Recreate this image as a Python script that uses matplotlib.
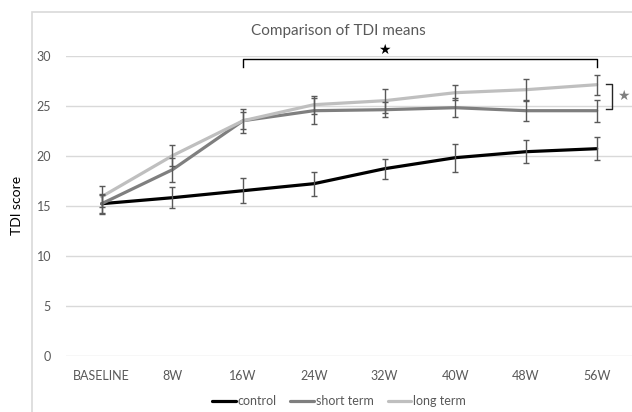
import matplotlib.pyplot as plt
from matplotlib.patches import Rectangle
import numpy as np

# data
categories = ['BASELINE', '8W', '16W', '24W', '32W', '40W', '48W', '56W']
control = [15.2, 15.8, 16.5, 17.2, 18.7, 19.8, 20.4, 20.7]
control_err = [1.0, 1.05, 1.25, 1.2, 1.0, 1.4, 1.17, 1.13]
short_term = [15.2, 18.6, 23.5, 24.5, 24.6, 24.8, 24.5, 24.5]
short_err = [0.9, 1.2, 0.85, 1.3, 0.75, 0.93, 1.05, 1.1]
long_term = [15.9, 20.0, 23.5, 25.1, 25.5, 26.3, 26.6, 27.1]
long_err = [1.05, 1.03, 1.2, 0.9, 1.2, 0.75, 1.1, 1.0]
yticks = [0, 5, 10, 15, 20, 25, 30]

plt.rcParams['font.family'] = ['Lato', 'DejaVu Sans']

fig = plt.figure(figsize=(6.32, 4.12), dpi=100)
ax = fig.add_axes([66.35 / 632, 56.3 / 412, 565.7 / 632, 300 / 412])

# chart border (light gray frame, left/top visible)
fig.patches.append(Rectangle((32 / 632, -0.05), 1.2, 1 - 12 / 412 + 0.05,
                             transform=fig.transFigure, fill=False,
                             edgecolor='#d9d9d9', lw=1.2))

x = np.arange(len(categories))

series = [(control, control_err, 'black', 'control'),
          (short_term, short_err, '#7f7f7f', 'short term'),
          (long_term, long_err, '#bfbfbf', 'long term')]

for vals, err, col, lab in series:
    ax.plot(x, vals, color=col, lw=2.3, label=lab, zorder=3, solid_capstyle='round')
for vals, err, col, lab in series:
    ax.errorbar(x, vals, yerr=err, fmt='none', ecolor='#595959', elinewidth=1,
                capsize=2.2, capthick=1, zorder=4)

ax.set_xlim(-0.5, len(categories) - 0.5)
ax.set_ylim(0, 30)
ax.set_yticks(yticks)
ax.set_xticks(x)
ax.set_xticklabels(categories)
ax.grid(axis='y', color='#d9d9d9', lw=1)
ax.set_axisbelow(True)
for s in ax.spines.values():
    s.set_visible(False)
ax.tick_params(length=0, labelsize=9, colors='#595959', pad=11)
ax.tick_params(axis='x', pad=10)

fig.text(17 / 632, 1 - 205 / 412, 'TDI score', rotation=90, ha='center', va='center',
         fontsize=10, color='black')

fig.text(338 / 632, 1 - 31 / 412, 'Comparison of TDI means', ha='center', va='center',
         fontsize=11, color='#595959')

# significance bracket over 16W-56W
ax.plot([2, 2, 7, 7], [28.9, 29.65, 29.65, 28.9], color='black', lw=1, clip_on=False, zorder=5)
ax.text(4, 30.55, '★', ha='center', va='center', fontsize=10, color='black',
        family='DejaVu Sans', clip_on=False)

# bracket between short and long term at 56W
ax.plot([7.13, 7.21, 7.21, 7.13], [27.15, 27.15, 24.65, 24.65], color='#262626', lw=1,
        clip_on=False, zorder=5)
ax.text(7.37, 25.95, '★', ha='center', va='center', fontsize=10, color='#7f7f7f',
        family='DejaVu Sans', clip_on=False)

leg = fig.legend(loc='center', bbox_to_anchor=(339 / 632, 1 - 401 / 412), ncol=3,
                 frameon=False, fontsize=9, handlelength=1.9, handletextpad=0.15,
                 columnspacing=1.1)
for t in leg.get_texts():
    t.set_color('#595959')

fig.savefig('out.png', dpi=100)
